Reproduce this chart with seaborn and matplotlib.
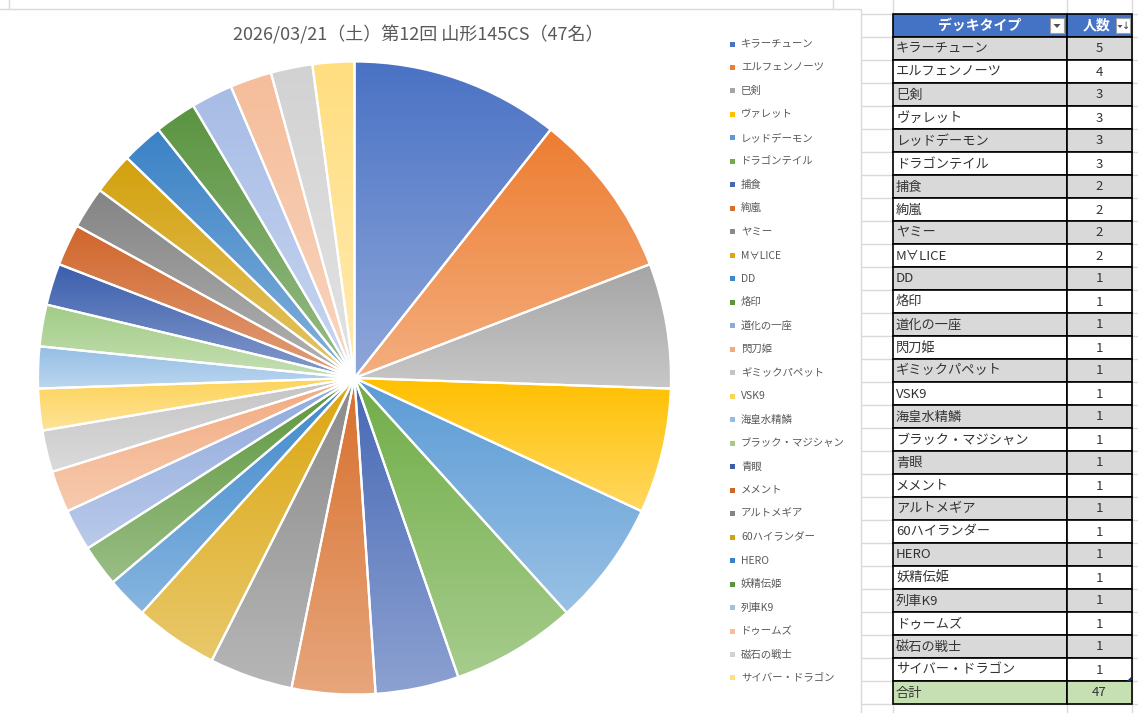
import matplotlib
matplotlib.use('Agg')
import numpy as np
import pandas as pd
import seaborn as sns
from matplotlib import pyplot as plt
from matplotlib.patches import Rectangle, Polygon
from matplotlib.colors import to_rgb

# data
decks = ['キラーチューン', 'エルフェンノーツ', '巳剣', 'ヴァレット', 'レッドデーモン', 'ドラゴンテイル',
         '捕食', '絢嵐', 'ヤミー', 'M∀LICE', 'DD', '烙印', '道化の一座', '閃刀姫', 'ギミックパペット',
         'VSK9', '海皇水精鱗', 'ブラック・マジシャン', '青眼', 'メメント', 'アルトメギア', '60ハイランダー',
         'HERO', '妖精伝姫', '列車K9', 'ドゥームズ', '磁石の戦士', 'サイバー・ドラゴン']
counts = [5, 4, 3, 3, 3, 3, 2, 2, 2, 2, 1, 1, 1, 1, 1, 1, 1, 1, 1, 1, 1, 1, 1, 1, 1, 1, 1, 1]
title = '2026/03/21（土）第12回 山形145CS（47名）'
col_headers = ['デッキタイプ', '人数']
total_label = '合計'

base_hex = ['#4A72C4', '#ED7D31', '#A5A5A5', '#FFC000', '#5B9BD5', '#70AD47',
            '#4668B5', '#D86F2C', '#8A8A8A', '#DBA60F', '#3E88CC', '#5C963C',
            '#8FA9DC', '#F2AA7E', '#C4C4C4', '#FDD35A', '#94BEE5', '#A2CC86',
            '#3B5EAD', '#D0652A', '#848484', '#D3A10C', '#3A82C6', '#5A9440',
            '#A7BCE6', '#F5BD9A', '#D2D2D2', '#FFDE80']
palette = sns.color_palette(base_hex)

df = pd.DataFrame({'deck': decks, 'count': counts})

sns.set_theme(style='white')
plt.rcParams['font.family'] = ['Noto Sans CJK JP', 'DejaVu Sans']

W, H = 1138, 713
fig = plt.figure(figsize=(W / 100, H / 100), dpi=100)
fig.patch.set_facecolor('white')

# background axes in pixel coordinates
bg = fig.add_axes([0, 0, 1, 1])
bg.set_xlim(0, W)
bg.set_ylim(H, 0)
bg.axis('off')

grid_c = '#DADADA'
row_h = 23
top0 = 14
# spreadsheet gridlines
for k in range(0, 31):
    y = top0 + k * row_h
    bg.plot([861, W], [y, y], color=grid_c, lw=1, zorder=0)
for x in [893, 1067, 1132]:
    bg.plot([x, x], [0, H], color=grid_c, lw=1, zorder=0)
for x in [9, 833]:
    bg.plot([x, x], [0, 9], color=grid_c, lw=1, zorder=0)

# chart area
bg.add_patch(Rectangle((-2, 9), 863, H, facecolor='white', edgecolor='#D9D9D9', lw=1, zorder=1))

bg.text(418, 35, title, ha='center', va='center', fontsize=13, color='#595959', zorder=5)

# legend
for i, (name, c) in enumerate(zip(df['deck'], palette)):
    y = 44 + i * 23.48
    bg.add_patch(Rectangle((730.5, y - 2.5), 5, 5, facecolor=c, edgecolor='none', zorder=5))
    bg.text(741, y, name, ha='left', va='center', fontsize=7.5, color='#595959', zorder=5)

# table
x0, xm, x1 = 893, 1067, 1132
bg.add_patch(Rectangle((x0, top0), x1 - x0, row_h, facecolor='#4472C4', edgecolor='black', lw=1.2, zorder=3))
bg.plot([xm, xm], [top0, top0 + row_h], color='black', lw=1.2, zorder=4)
bg.text((x0 + xm) / 2, top0 + row_h / 2, col_headers[0], ha='center', va='center', fontsize=10,
        color='white', fontweight='bold', zorder=5)
bg.text(1097, top0 + row_h / 2, col_headers[1], ha='center', va='center', fontsize=10,
        color='white', fontweight='bold', zorder=5)
for bx in [1050, 1116]:
    bg.add_patch(Rectangle((bx, top0 + 4), 14, 15, facecolor='white', edgecolor='#A0A0A0', lw=0.8, zorder=5))
bg.add_patch(Polygon([[1053.5, top0 + 10], [1060.5, top0 + 10], [1057, top0 + 14]], closed=True,
                     facecolor='#505050', edgecolor='none', zorder=6))
bg.add_patch(Polygon([[1117.5, top0 + 11], [1122.5, top0 + 11], [1120, top0 + 14]], closed=True,
                     facecolor='#505050', edgecolor='none', zorder=6))
bg.text(1126, top0 + 12, '↓', ha='center', va='center', fontsize=7, color='#404040', zorder=6,
        family=['DejaVu Sans'])

txt_c = '#333333'
for i, (name, n) in enumerate(zip(df['deck'], df['count'])):
    y = top0 + (i + 1) * row_h
    fc = '#D9D9D9' if i % 2 == 0 else 'white'
    bg.add_patch(Rectangle((x0, y), xm - x0, row_h, facecolor=fc, edgecolor='black', lw=1.2, zorder=3))
    bg.add_patch(Rectangle((xm, y), x1 - xm, row_h, facecolor=fc, edgecolor='black', lw=1.2, zorder=3))
    bg.text(896, y + row_h / 2 + 0.5, name, ha='left', va='center', fontsize=9.5, color=txt_c, zorder=5)
    bg.text((xm + x1) / 2, y + row_h / 2 + 0.5, str(n), ha='center', va='center', fontsize=9.5,
            color=txt_c, zorder=5)

yt = top0 + 29 * row_h
bg.add_patch(Rectangle((x0, yt), xm - x0, row_h, facecolor='#C6E0B4', edgecolor='black', lw=1.2, zorder=3))
bg.add_patch(Rectangle((xm, yt), x1 - xm, row_h, facecolor='#C6E0B4', edgecolor='black', lw=1.2, zorder=3))
bg.text(896, yt + row_h / 2 + 0.5, total_label, ha='left', va='center', fontsize=9.5, color=txt_c, zorder=5)
bg.text((xm + x1) / 2, yt + row_h / 2 + 0.5, str(df['count'].sum()), ha='center', va='center',
        fontsize=9.5, color=txt_c, zorder=5)
bg.add_patch(Polygon([[1131, yt - 4], [1131, yt], [1127, yt]], closed=True,
                     facecolor='#1F3B70', edgecolor='none', zorder=6))

# pie
cx, cy, r = 354.5, 378, 316.5
ax = fig.add_axes([(cx - r) / W, (H - cy - r) / H, 2 * r / W, 2 * r / H])
ax.patch.set_visible(False)
wedges, _ = ax.pie(df['count'], colors=palette, startangle=90, counterclock=False, radius=1,
                   wedgeprops=dict(edgecolor='white', linewidth=1.6))

# Excel-like vertical gradient inside each slice
grad = np.linspace(0, 1, 256)[:, None]
for w, c in zip(wedges, palette):
    c = np.array(to_rgb(c))
    top_c = c
    bot_c = c + (1 - c) * 0.38
    img = top_c[None, None, :] * (1 - grad[:, :, None]) + bot_c[None, None, :] * grad[:, :, None]
    verts = w.get_patch_transform().transform(w.get_path().vertices)
    xmn, ymn = verts.min(axis=0)
    xmx, ymx = verts.max(axis=0)
    im = ax.imshow(img, extent=[xmn, xmx, ymn, ymx], origin='upper', aspect='auto',
                   interpolation='bilinear', zorder=1)
    im.set_clip_path(w)
    w.set_facecolor('none')
    w.set_zorder(2)

ax.set_xlim(-1, 1)
ax.set_ylim(-1, 1)
ax.set_aspect('equal')
ax.axis('off')

fig.savefig('out.png', dpi=100)
